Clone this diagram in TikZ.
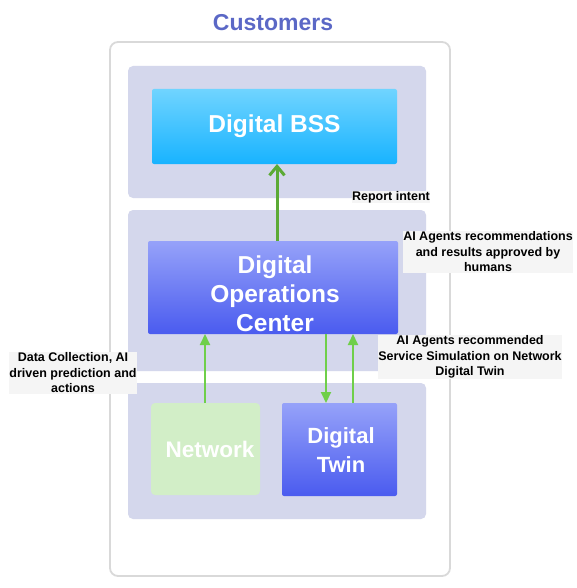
\documentclass[tikz,border=0pt]{standalone}
\usepackage{fontspec}
\setmainfont{Liberation Sans}
\usetikzlibrary{arrows.meta}
\definecolor{panel}{HTML}{D4D7EC}
\definecolor{outerline}{HTML}{D9D9D9}
\definecolor{titleblue}{HTML}{5B68C6}
\definecolor{bsstop}{HTML}{70D4FF}
\definecolor{bssbot}{HTML}{18B3FF}
\definecolor{doctop}{HTML}{96A2F9}
\definecolor{docbot}{HTML}{4A5BEF}
\definecolor{netgreen}{HTML}{D2EEC7}
\definecolor{darkarrow}{HTML}{5BAA35}
\definecolor{lightarrow}{HTML}{6FCF4A}
\definecolor{labelbg}{HTML}{F5F5F5}
\begin{document}
\begin{tikzpicture}[x=1pt,y=-1pt,
  panelbox/.style={fill=panel,rounded corners=5pt},
  bigtext/.style={text=white,font=\bfseries\fontsize{24.5}{29}\selectfont,align=center},
  smalltext/.style={text=white,font=\bfseries\fontsize{22.5}{29}\selectfont,align=center},
  bluebox/.style={rounded corners=2pt,top color=doctop,bottom color=docbot,draw=none},
  lbl/.style={font=\bfseries\fontsize{12.5}{15.5}\selectfont,align=center,fill=labelbg,inner sep=0.5pt},
  uparrow/.style={draw=lightarrow,line width=2pt,-{Triangle[length=11pt,width=10pt]}},
]
\useasboundingbox (0,0) rectangle (577,588);
% title
\node[font=\bfseries\fontsize{23}{27}\selectfont,text=titleblue] (title) at (273,23) {Customers};
% outer box
\draw[outerline,line width=1.8pt,rounded corners=8pt,fill=white] (110,42) rectangle (450,576);
% panels
\fill[panelbox] (128,66) rectangle (426,198);
\fill[panelbox] (128,210) rectangle (426,371);
\fill[panelbox] (128,383) rectangle (426,519);
% boxes
\path[rounded corners=2pt,top color=bsstop,bottom color=bssbot] (152,89) rectangle (397,164);
\node[bigtext] (bss) at (274.5,126) {Digital BSS};
\coordinate (bssb) at (277,164);
\path[bluebox] (148,241) rectangle (398,334);
\node[bigtext] (doc) at (275,294) {Digital\\Operations\\Center};
\fill[netgreen,rounded corners=4pt] (151,403) rectangle (260,495);
\node[smalltext] (net) at (210,449) {Network};
\path[bluebox] (282,403) rectangle (397,496);
\node[font=\bfseries\fontsize{22}{29}\selectfont,text=white,align=center] (dt) at (341,450) {Digital\\Twin};
% arrow anchors
\coordinate (doct) at (277,241);
\coordinate (docb1) at (205,334);
\coordinate (docb2) at (326,334);
\coordinate (docb3) at (353,334);
\coordinate (nett) at (205,403);
\coordinate (dtt1) at (326,403);
\coordinate (dtt2) at (353,403);
% arrows
\draw[darkarrow,line width=3pt,-{Straight Barb[length=9pt,width=15pt,line width=3pt]}] (doct) -- (bssb);
\draw[uparrow] (nett) -- (docb1);
\draw[uparrow] (docb2) -- (dtt1);
\draw[uparrow] (dtt2) -- (docb3);
% labels
\node[lbl] (l1) at (391,197) {Report intent};
\node[lbl] (l2) at (488,252) {AI Agents recommendations\\and results approved by\\humans};
\node[lbl] (l3) at (470,357) {AI Agents recommended\\Service Simulation on Network\\Digital Twin};
\node[lbl] (l4) at (73,373) {Data Collection, AI\\driven prediction and\\actions};
\end{tikzpicture}
\end{document}
